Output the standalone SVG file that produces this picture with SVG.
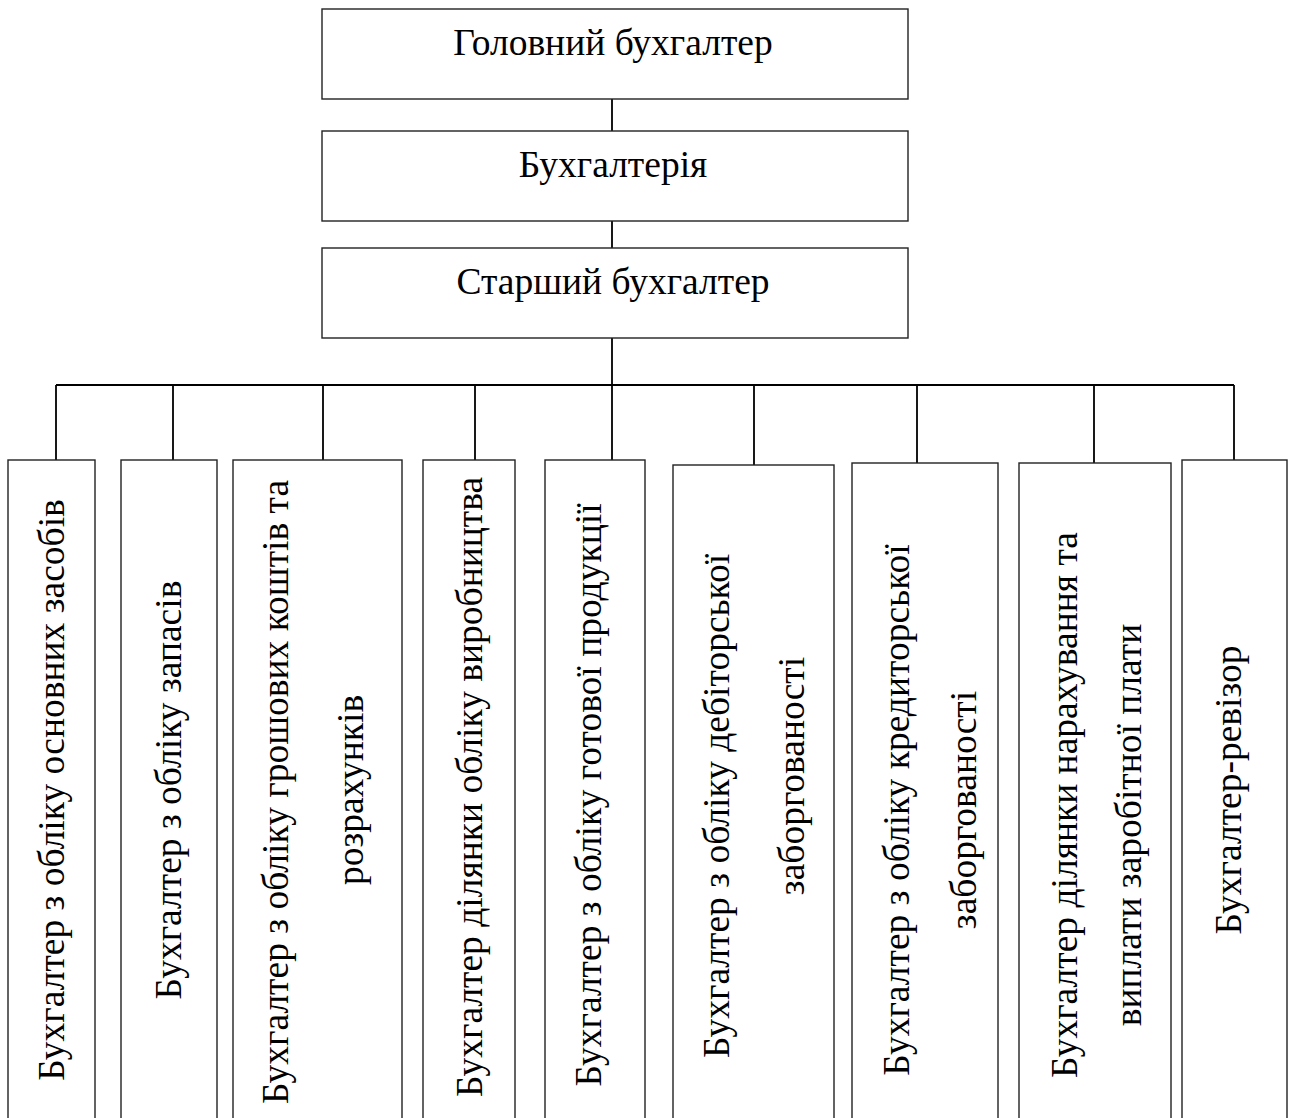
<svg xmlns="http://www.w3.org/2000/svg" width="1294" height="1118" viewBox="0 0 1294 1118">
<style>
.box{fill:#fff;stroke:#222;stroke-width:1.4}
.ln{stroke:#000;stroke-width:1.8;fill:none}
text{font-family:"Liberation Serif","Times New Roman",serif;font-size:37.5px;fill:#000;text-anchor:middle}
</style>
<rect width="1294" height="1118" fill="#fff"/>
<g id="connectors">
<path class="ln" d="M612 99V131M612 221V248M612 338V460M56 385H1234M56 385V460M173 385V460M323 385V460M475 385V460M754 385V465M917 385V463M1094 385V463M1234 385V463"/>
</g>
<g id="n-head"><rect class="box" x="322" y="9" width="586" height="90"/><text x="613" y="55">Головний бухгалтер</text></g>
<g id="n-dept"><rect class="box" x="322" y="131" width="586" height="90"/><text x="613" y="177">Бухгалтерія</text></g>
<g id="n-senior"><rect class="box" x="322" y="248" width="586" height="90"/><text x="613" y="294">Старший бухгалтер</text></g>
<g id="n1"><rect class="box" x="8" y="460" width="87" height="680"/><text transform="translate(64 790) rotate(-90)">Бухгалтер з обліку основних засобів</text></g>
<g id="n2"><rect class="box" x="121" y="460" width="96" height="680"/><text transform="translate(181 790) rotate(-90)">Бухгалтер з обліку запасів</text></g>
<g id="n3"><rect class="box" x="233" y="460" width="169" height="680"/><text transform="translate(288 792) rotate(-90)">Бухгалтер з обліку грошових коштів та</text><text transform="translate(363 790) rotate(-90)">розрахунків</text></g>
<g id="n4"><rect class="box" x="423" y="460" width="92" height="680"/><text transform="translate(482 787) rotate(-90)">Бухгалтер ділянки обліку виробництва</text></g>
<g id="n5"><rect class="box" x="545" y="460" width="100" height="680"/><text transform="translate(601 795) rotate(-90)">Бухгалтер з обліку готової продукції</text></g>
<g id="n6"><rect class="box" x="673" y="465" width="161" height="680"/><text transform="translate(729 806) rotate(-90)">Бухгалтер з обліку дебіторської</text><text transform="translate(804 776) rotate(-90)">заборгованості</text></g>
<g id="n7"><rect class="box" x="852" y="463" width="146" height="680"/><text transform="translate(909 810) rotate(-90)">Бухгалтер з обліку кредиторської</text><text transform="translate(976 810) rotate(-90)">заборгованості</text></g>
<g id="n8"><rect class="box" x="1019" y="463" width="152" height="680"/><text transform="translate(1077 805) rotate(-90)">Бухгалтер ділянки нарахування та</text><text transform="translate(1141 825) rotate(-90)">виплати заробітної плати</text></g>
<g id="n9"><rect class="box" x="1182" y="460" width="105" height="680"/><text transform="translate(1241 790) rotate(-90)">Бухгалтер-ревізор</text></g>
</svg>
